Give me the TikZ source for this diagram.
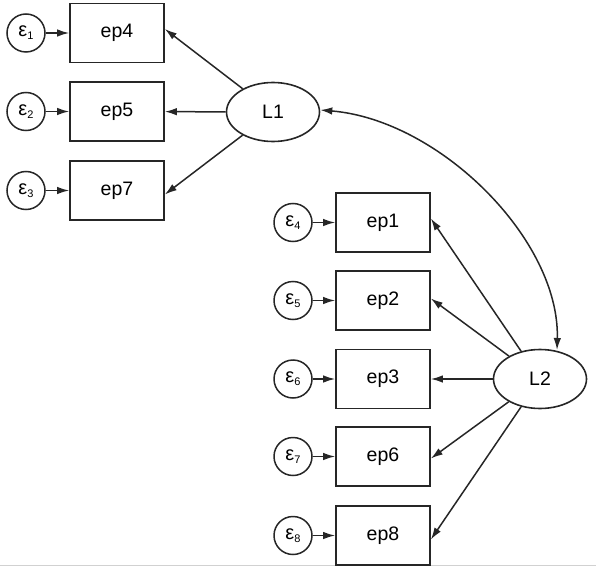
\documentclass[tikz,border=0pt]{standalone}
\usepackage{fontspec}
\setmainfont{Liberation Sans}
\usetikzlibrary{arrows.meta,shapes.geometric}
\begin{document}
\begin{tikzpicture}[x=1pt,y=-1pt,
  obsbox/.style={draw=black!85,line width=1.7pt,minimum width=94pt,minimum height=59pt,inner sep=0pt,font=\fontsize{19.5}{19.5}\selectfont},
  latent/.style={draw=black!85,line width=1.6pt,ellipse,minimum width=93pt,minimum height=59pt,inner sep=0pt,font=\fontsize{19.5}{19.5}\selectfont},
  errc/.style={draw=black!85,line width=1.5pt,circle,minimum size=38pt,inner sep=0pt,font=\fontsize{20}{20}\selectfont},
  arr/.style={line width=1.5pt,draw=black!85,-{Latex[length=12pt,width=7.5pt]}},
  darr/.style={line width=1.5pt,draw=black!85,{Latex[length=12pt,width=7.5pt]}-{Latex[length=12pt,width=7.5pt]}}
]
\useasboundingbox (0,0) rectangle (596,572);
\draw[black!18,line width=0.8pt] (0,565.5) -- (596,565.5);
\newcommand{\eps}[1]{ε\raisebox{-0.3ex}{\fontsize{11}{11}\selectfont #1}}
% left group
\node[obsbox] (ep4) at (117,33) {ep4};
\node[obsbox] (ep5) at (117,111.5) {ep5};
\node[obsbox] (ep7) at (117,190.5) {ep7};
\node[errc] (e1) at (26,33) {\eps{1}};
\node[errc] (e2) at (26,111.5) {\eps{2}};
\node[errc] (e3) at (26,190.5) {\eps{3}};
\node[latent] (L1) at (273,112) {L1};
% right group
\node[obsbox] (ep1) at (383,222.5) {ep1};
\node[obsbox] (ep2) at (383,300.5) {ep2};
\node[obsbox] (ep3) at (383,379) {ep3};
\node[obsbox] (ep6) at (383,456.5) {ep6};
\node[obsbox] (ep8) at (383,535.5) {ep8};
\node[errc] (e4) at (293,222.5) {\eps{4}};
\node[errc] (e5) at (293,300.5) {\eps{5}};
\node[errc] (e6) at (293,379) {\eps{6}};
\node[errc] (e7) at (293,456.5) {\eps{7}};
\node[errc] (e8) at (293,535.5) {\eps{8}};
\node[latent] (L2) at (540,379) {L2};
% error arrows
\foreach \e/\b in {e1/ep4,e2/ep5,e3/ep7,e4/ep1,e5/ep2,e6/ep3,e7/ep6,e8/ep8}
  \draw[arr] (\e) -- (\b);
% loadings
\draw[arr] (L1) -- ([yshift=4pt]ep4.east);
\draw[arr] (L1) -- (ep5);
\draw[arr] (L1) -- ([yshift=-4pt]ep7.east);
\draw[arr] (L2) -- ([yshift=4pt]ep1.east);
\draw[arr] (L2) -- ([yshift=2pt]ep2.east);
\draw[arr] (L2) -- (ep3);
\draw[arr] (L2) -- ([yshift=-2pt]ep6.east);
\draw[arr] (L2) -- ([yshift=-4pt]ep8.east);
% covariance
\coordinate (c1) at ([yshift=2pt]L1.east);
\coordinate (c2) at (557,350);
\draw[darr] (c1) .. controls (440,120) and (560,240) .. (c2);
\end{tikzpicture}
\end{document}
